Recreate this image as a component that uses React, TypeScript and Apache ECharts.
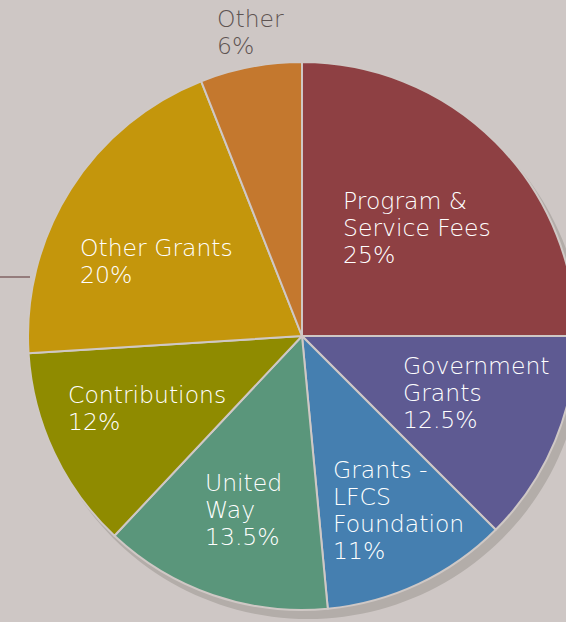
import React, { useEffect, useRef } from "react";
import * as echarts from "echarts";

const categories = [
  "Program &\nService Fees",
  "Government\nGrants",
  "Grants -\nLFCS\nFoundation",
  "United\nWay",
  "Contributions",
  "Other Grants",
  "Other",
];
const values = [25, 12.5, 11, 13.5, 12, 20, 6];
const colors = ["#8e4043", "#5e5a92", "#457fb0", "#5a967b", "#8f8b00", "#c4960c", "#c4782e"];
// label anchor (top-left) positions
const labelPos: [number, number][] = [
  [343, 187],
  [403, 352],
  [333, 456],
  [205, 469],
  [68, 381],
  [80, 234],
  [217, 5],
];

export default function App() {
  const ref = useRef<HTMLDivElement>(null);
  useEffect(() => {
    document.body.style.margin = "0";
    const chart = echarts.init(ref.current!, null, { renderer: "svg" });
    const font = "DejaVu Sans";
    chart.setOption({
      animation: false,
      backgroundColor: "#cec7c5",
      graphic: [
        {
          type: "line",
          shape: { x1: 0, y1: 277, x2: 30, y2: 277 },
          style: { stroke: "#947c7c", lineWidth: 2 },
          z: 0,
        },
      ],
      series: [
        {
          type: "pie",
          silent: true,
          center: [308, 344],
          radius: 275,
          z: 1,
          label: { show: false },
          labelLine: { show: false },
          itemStyle: { color: "#b3ada9" },
          data: [{ value: 1, name: "shadow" }],
        },
        {
          type: "pie",
          center: [302, 336],
          radius: 274,
          startAngle: 90,
          clockwise: true,
          z: 2,
          itemStyle: { borderColor: "#cfc8c5", borderWidth: 2 },
          label: {
            show: true,
            position: "inside",
            formatter: "{b}\n{c}%",
            color: "#ffffff",
            fontFamily: font,
            fontWeight: 200,
            fontSize: 23.5,
            lineHeight: 27,
            align: "left",
          },
          labelLine: { show: false },
          labelLayout: (p: any) => ({
            x: labelPos[p.dataIndex][0],
            y: labelPos[p.dataIndex][1],
            align: "left",
            verticalAlign: "top",
          }),
          data: categories.map((c, i) => ({
            name: c,
            value: values[i],
            itemStyle: { color: colors[i] },
            label: i === 6 ? { color: "#5e5452" } : undefined,
          })),
        },
      ],
    });
    return () => chart.dispose();
  }, []);
  return (
    <div
      ref={ref}
      style={{ position: "absolute", left: 0, top: 0, width: 566, height: 622 }}
    />
  );
}
